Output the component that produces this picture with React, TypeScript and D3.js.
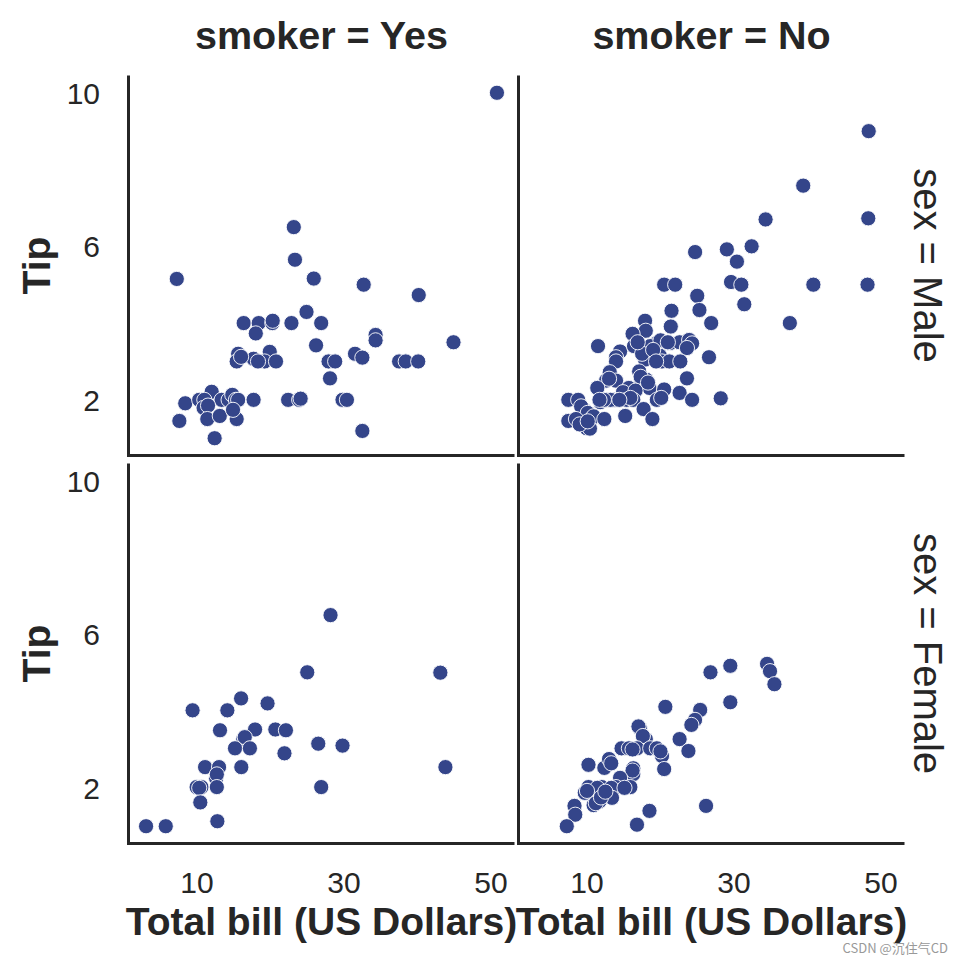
import React from "react";
import * as d3 from "d3";

// [total_bill, tip] pairs per facet
const yesMale: [number, number][] = [
  [50.81, 10.0], [23.17, 6.5], [23.33, 5.65], [7.25, 5.15], [25.89, 5.16], [32.68, 5.0], [40.17, 4.73], [24.9, 4.29],
  [16.35, 4.0], [18.4, 4.0], [18.0, 3.73], [20.25, 4.0], [20.3, 4.06], [22.85, 4.0], [26.9, 4.0],
  [34.3, 3.69], [34.3, 3.55], [44.9, 3.5], [26.2, 3.42],
  [15.6, 3.2], [15.4, 3.0], [17.7, 3.07], [16.0, 3.12], [19.9, 3.25], [19.2, 3.0], [20.75, 3.0], [18.3, 3.0],
  [27.9, 3.0], [28.8, 3.0], [31.5, 3.2], [32.5, 3.1], [37.5, 3.0], [38.4, 3.0], [40.1, 3.0],
  [28.1, 2.56], [12.0, 2.21], [8.4, 1.91], [10.3, 2.0], [11.0, 2.0], [13.35, 2.0], [14.3, 2.0], [14.8, 2.13], [15.3, 2.0], [15.6, 2.0], [17.7, 2.0],
  [10.9, 1.79], [11.5, 1.85],
  [22.4, 2.0], [23.9, 2.0], [24.1, 2.03], [29.8, 2.0], [30.4, 2.0],
  [7.6, 1.45], [11.4, 1.5], [13.1, 1.58], [15.4, 1.5], [14.9, 1.74], [12.4, 1.0], [32.5, 1.19],
];

const noMale: [number, number][] = [
  [48.33, 9.0], [39.42, 7.58], [34.3, 6.7], [48.27, 6.73], [24.71, 5.85], [29.03, 5.92], [32.4, 6.0], [30.4, 5.6],
  [20.5, 5.0], [22.0, 5.0], [29.6, 5.07], [31.0, 5.0], [40.8, 5.0], [48.17, 5.0],
  [25.0, 4.71], [25.3, 4.34], [31.4, 4.49], [21.5, 4.32], [26.9, 4.0], [37.6, 4.0], [21.4, 3.91],
  [17.9, 4.06], [18.0, 3.8], [16.2, 3.72], [11.5, 3.4], [14.5, 3.26], [16.4, 3.4],
  [19.5, 3.48], [21.3, 3.48], [22.6, 3.5], [23.9, 3.56], [24.3, 3.47], [23.6, 3.35], [18.6, 3.4], [20.0, 3.55],
  [26.6, 3.11], [13.95, 3.11], [13.95, 3.0], [17.9, 3.05], [17.5, 3.2],
  [19.9, 3.15], [20.2, 3.0], [21.2, 3.0], [22.7, 3.0], [19.0, 3.3],
  [13.1, 2.72], [12.6, 2.5], [13.95, 2.5], [17.1, 2.74], [17.4, 2.52], [18.1, 2.52], [18.5, 2.31], [17.3, 2.6],
  [23.6, 2.56], [11.4, 2.31], [15.7, 2.31], [20.5, 2.27], [22.6, 2.18], [14.9, 2.2], [16.6, 2.24],
  [7.46, 2.0], [8.8, 2.0], [11.8, 1.94], [12.7, 2.0], [13.7, 2.0], [13.2, 2.0], [12.3, 2.0],
  [15.4, 2.0], [16.3, 2.0], [15.9, 2.05], [19.5, 2.0], [20.1, 2.05], [24.3, 2.0], [28.2, 2.04],
  [9.6, 1.74], [9.2, 1.83], [10.1, 1.66], [17.7, 1.76], [7.46, 1.45], [10.6, 1.5], [10.9, 1.57], [12.36, 1.5],
  [15.2, 1.58], [18.9, 1.5], [9.95, 1.26], [10.4, 1.25], [8.5, 1.5], [9.0, 1.36], [10.1, 1.44],
  [11.7, 2.0], [14.4, 2.0], [16.9, 3.5], [19.4, 3.0], [21.0, 3.5], [13.0, 2.55], [18.3, 2.45],
];

const yesFemale: [number, number][] = [
  [28.17, 6.5], [25.0, 5.01], [43.11, 5.0], [16.0, 4.33], [19.6, 4.2], [9.4, 4.02], [14.13, 4.02],
  [13.13, 3.5], [17.9, 3.52], [20.66, 3.52], [22.1, 3.5], [16.3, 3.27], [16.5, 3.32],
  [15.17, 3.03], [17.2, 3.03], [26.5, 3.15], [29.8, 3.1], [21.9, 2.9],
  [43.8, 2.54], [11.1, 2.54], [13.0, 2.54], [16.03, 2.54], [12.6, 2.25], [12.7, 2.35],
  [9.95, 2.02], [10.6, 2.02], [10.3, 2.0], [12.7, 2.02], [26.9, 2.02], [10.45, 1.62], [12.77, 1.13],
  [3.07, 1.0], [5.75, 1.0],
];

const noFemale: [number, number][] = [
  [26.8, 5.01], [29.5, 5.18], [34.5, 5.23], [34.9, 5.04], [35.5, 4.7], [29.5, 4.23], [20.66, 4.11],
  [25.4, 4.03], [24.7, 3.77], [24.2, 3.64], [17.2, 3.54], [17.0, 3.6], [18.0, 3.27], [17.6, 3.35], [22.6, 3.27], [23.8, 2.96],
  [14.7, 3.03], [15.7, 3.03], [16.8, 3.03], [16.2, 3.0], [18.6, 3.03], [19.5, 3.03], [20.2, 2.83], [20.0, 2.95], [20.5, 2.49],
  [10.2, 2.6], [12.36, 2.52], [13.0, 2.75], [13.3, 2.64], [16.3, 2.51], [16.3, 2.36], [16.2, 2.45], [14.5, 2.26],
  [10.2, 2.02], [12.0, 2.02], [11.4, 2.0], [13.95, 2.02], [13.3, 2.0], [15.9, 2.02], [15.1, 2.0], [9.7, 1.87], [10.0, 1.92],
  [13.4, 1.74], [11.7, 1.65], [10.9, 1.55], [11.2, 1.6], [8.3, 1.53], [8.4, 1.3],
  [7.25, 1.0], [18.5, 1.4], [16.8, 1.04], [26.2, 1.53], [11.9, 1.75], [12.5, 1.9],
];

const colLabels = ["smoker = Yes", "smoker = No"];
const rowLabels = ["sex = Male", "sex = Female"];
const xTicks = [10, 30, 50];
const yTicks = [2, 6, 10];
const xLabel = "Total bill (US Dollars)";
const yLabel = "Tip";

const panels = [
  { row: 0, col: 0, data: yesMale },
  { row: 0, col: 1, data: noMale },
  { row: 1, col: 0, data: yesFemale },
  { row: 1, col: 1, data: noFemale },
];

const W = 964;
const H = 965;
const left0 = 128.5;
const panelW = 386;
const colGap = 4;
const top0 = 75.5;
const panelH = 380;
const rowGap = 8;
const ink = "#262626";
const dot = "#34458a";
const font = "'Liberation Sans', Arial, sans-serif";

export default function App() {
  const xDomain: [number, number] = [0.68, 53.2];
  const yDomain: [number, number] = [0.55, 10.45];
  const colX = (c: number) => left0 + c * (panelW + colGap);
  const rowY = (r: number) => top0 + r * (panelH + rowGap);

  return (
    <svg width={W} height={H} style={{ position: "absolute", left: 0, top: 0, background: "#fff" }}>
      {panels.map((p, i) => {
        const x0 = colX(p.col);
        const y0 = rowY(p.row);
        const x = d3.scaleLinear().domain(xDomain).range([x0, x0 + panelW]);
        const y = d3.scaleLinear().domain(yDomain).range([y0 + panelH, y0]);
        return (
          <g key={i}>
            {p.data.map((d, j) => (
              <circle key={j} cx={x(d[0])} cy={y(d[1])} r={7.6} fill={dot} stroke="#fff" strokeWidth={0.9} />
            ))}
            <line x1={x0} x2={x0} y1={y0} y2={y0 + panelH} stroke={ink} strokeWidth={3} />
            <line x1={x0 - 1.5} x2={x0 + panelW} y1={y0 + panelH} y2={y0 + panelH} stroke={ink} strokeWidth={3} />
            {p.col === 0 &&
              yTicks.map((t) => (
                <text key={t} x={100} y={y(t)} dy="0.36em" textAnchor="end" fontSize={30} fontFamily={font} fill={ink}>
                  {t}
                </text>
              ))}
            {p.row === 1 &&
              xTicks.map((t) => (
                <text key={t} x={x(t)} y={y0 + panelH + 39} dy="0.36em" textAnchor="middle" fontSize={30} fontFamily={font} fill={ink}>
                  {t}
                </text>
              ))}
            {p.row === 0 && (
              <text x={x0 + panelW / 2} y={49} textAnchor="middle" fontSize={39.5} fontWeight="bold" fontFamily={font} fill={ink}>
                {colLabels[p.col]}
              </text>
            )}
            {p.col === 1 && (
              <text
                transform={`translate(${x0 + panelW + 9},${y0 + panelH / 2}) rotate(90)`}
                textAnchor="middle"
                fontSize={40}
                fontFamily={font}
                fill={ink}
              >
                {rowLabels[p.row]}
              </text>
            )}
            {p.col === 0 && (
              <text
                transform={`translate(50,${y0 + panelH / 2}) rotate(-90)`}
                textAnchor="middle"
                fontSize={39}
                fontWeight="bold"
                fontFamily={font}
                fill={ink}
              >
                {yLabel}
              </text>
            )}
            {p.row === 1 && (
              <text x={x0 + panelW / 2} y={935} textAnchor="middle" fontSize={39} fontWeight="bold" fontFamily={font} fill={ink}>
                {xLabel}
              </text>
            )}
          </g>
        );
      })}
      <text x={948} y={953} textAnchor="end" fontSize={13} fontFamily="'Noto Sans CJK SC', sans-serif" fill="#999">
        CSDN @沉住气CD
      </text>
    </svg>
  );
}
